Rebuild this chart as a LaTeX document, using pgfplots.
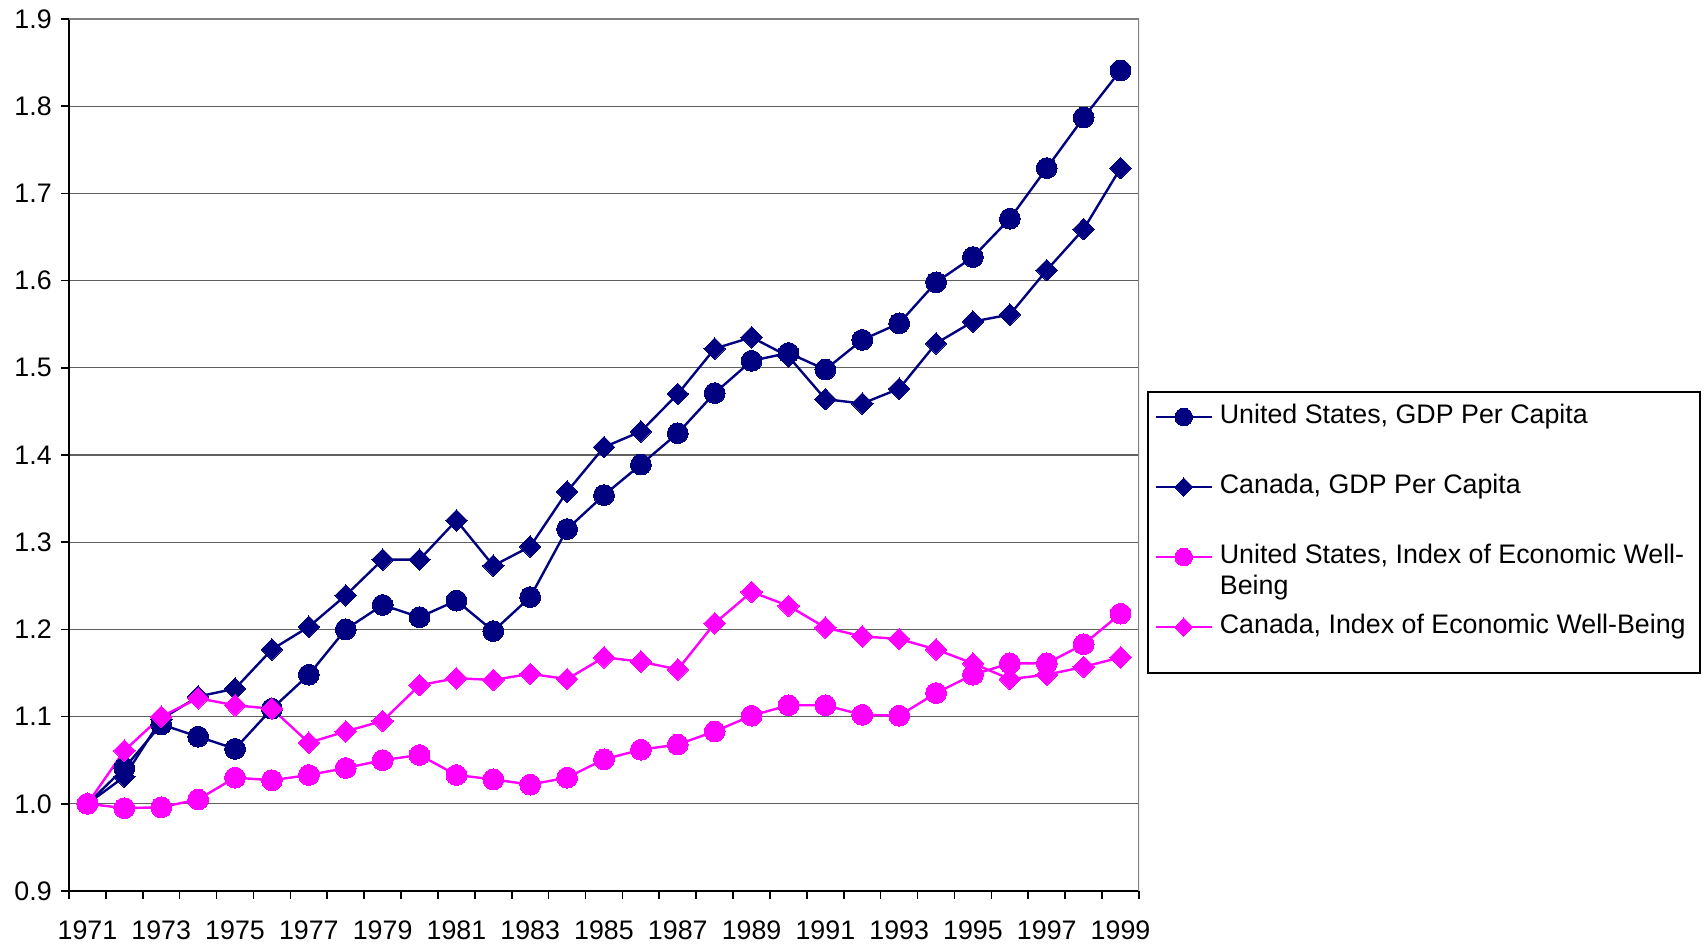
\documentclass[border=0pt]{standalone}
\usepackage{fontspec}
\setmainfont{Liberation Sans}
\usepackage{pgfplots}
\usepackage{pgfplotstable}
\pgfplotsset{compat=1.18}
\definecolor{navy}{HTML}{000080}
\definecolor{mag}{HTML}{FF00FF}
\pgfplotstableread{
year usgdp cagdp usiewb caiewb
1971 1.000 1.000 1.000 1.000
1972 1.041 1.031 0.995 1.061
1973 1.091 1.097 0.996 1.100
1974 1.077 1.123 1.005 1.121
1975 1.063 1.132 1.030 1.113
1976 1.109 1.177 1.027 1.109
1977 1.148 1.203 1.033 1.070
1978 1.200 1.239 1.041 1.083
1979 1.228 1.280 1.050 1.095
1980 1.214 1.280 1.056 1.136
1981 1.233 1.325 1.033 1.144
1982 1.198 1.273 1.028 1.142
1983 1.237 1.295 1.022 1.149
1984 1.315 1.358 1.030 1.143
1985 1.354 1.409 1.051 1.168
1986 1.389 1.427 1.062 1.163
1987 1.425 1.470 1.068 1.154
1988 1.471 1.522 1.083 1.207
1989 1.508 1.535 1.101 1.243
1990 1.517 1.513 1.113 1.227
1991 1.498 1.464 1.113 1.202
1992 1.532 1.459 1.102 1.192
1993 1.551 1.476 1.101 1.189
1994 1.598 1.528 1.127 1.177
1995 1.627 1.553 1.148 1.161
1996 1.671 1.561 1.161 1.143
1997 1.729 1.612 1.161 1.148
1998 1.787 1.659 1.183 1.157
1999 1.841 1.729 1.218 1.168
}\datatable
\begin{document}
\fontsize{13.4pt}{16pt}\selectfont
\begin{tikzpicture}
\useasboundingbox (0,0) rectangle (852.5pt,473pt);
\begin{axis}[
  at={(34.5pt,27.5pt)}, anchor=south west,
  scale only axis, width=535pt, height=436pt,
  xmin=1970.5, xmax=1999.5, ymin=0.9, ymax=1.9,
  axis x line*=bottom, axis y line*=left,
  axis line style={black, line width=0.8pt},
  x axis line style={-}, y axis line style={-},
  tick align=outside,
  xtick={1970.5,1971.5,...,1999.5},
  xticklabels={},
  major tick length=4pt,
  tick style={black, line width=0.8pt},
  extra x ticks={1971,1973,...,1999},
  extra x tick style={major tick length=0pt, tick style={draw=none}},
  extra x tick labels={1971,1973,1975,1977,1979,1981,1983,1985,1987,1989,1991,1993,1995,1997,1999},
  xticklabel style={font=\fontsize{13.4pt}{16pt}\selectfont, yshift=-10pt},
  ytick={0.9,1.0,...,1.9},
  yticklabel style={font=\fontsize{13.4pt}{16pt}\selectfont, /pgf/number format/fixed, /pgf/number format/fixed zerofill, /pgf/number format/precision=1},
  /pgf/number format/assume math mode=true,
  ymajorgrids, grid style={gray!75!black, line width=0.6pt},
  legend style={draw=none, fill=none, at={(1.0085,0.5675)}, anchor=north west,
    font=\fontsize{13.4pt}{16pt}\selectfont,
    nodes={text height=9.5pt, text depth=3pt, inner sep=2pt},
    row sep=18.5pt, column sep=1.5pt},
  legend cell align=left,
  legend image code/.code={\draw[mark repeat=2, mark phase=2, #1, every mark/.append style={scale=0.85}] plot coordinates {(0pt,0pt) (14pt,0pt) (28pt,0pt)};},
  every axis plot/.append style={line width=1.2pt},
]
\addplot[navy, mark=*, mark size=5.2pt, mark options={line width=0pt}] table[x=year, y=usgdp] {\datatable};
\addlegendentry{United States, GDP Per Capita}
\addplot[navy, mark=diamond*, mark size=5.4pt, mark options={xscale=1.33, line width=0pt}] table[x=year, y=cagdp] {\datatable};
\addlegendentry{Canada, GDP Per Capita}
\addplot[mag, mark=*, mark size=5.2pt, mark options={line width=0pt}] table[x=year, y=usiewb] {\datatable};
\addlegendentry{\smash{\rlap{\raisebox{-15.5pt}{Being}}}United States, Index of Economic Well-}
\addplot[mag, mark=diamond*, mark size=5.4pt, mark options={xscale=1.33, line width=0pt}] table[x=year, y=caiewb] {\datatable};
\addlegendentry{Canada, Index of Economic Well-Being}
\draw[gray, line width=1.2pt] (rel axis cs:0,1) -- (rel axis cs:1,1) -- (rel axis cs:1,0);
\end{axis}
\draw[black, line width=0.6pt] (574pt,277pt) rectangle (850pt,136.5pt);
\end{tikzpicture}
\end{document}
